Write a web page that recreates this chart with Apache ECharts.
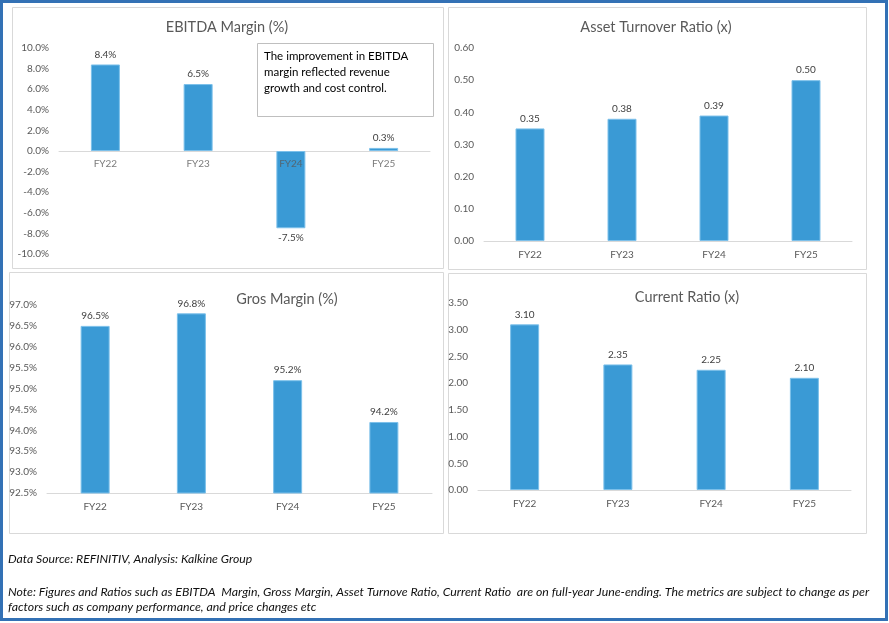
<!DOCTYPE html>
<html>
<head>
<meta charset="utf-8">
<script src="https://cdn.jsdelivr.net/npm/echarts@6/dist/echarts.min.js"></script>
<style>
html,body{margin:0;padding:0;background:#fff;}
#c{width:889px;height:623px;}
</style>
</head>
<body>
<div id="c"></div>
<script>
// ---- data ----
const categories = ['FY22', 'FY23', 'FY24', 'FY25'];
const ebitdaMargin = [8.4, 6.5, -7.5, 0.3];
const assetTurnover = [0.35, 0.38, 0.39, 0.50];
const grossMargin = [96.5, 96.8, 95.2, 94.2];
const currentRatio = [3.10, 2.35, 2.25, 2.10];
const titles = ['EBITDA Margin (%)', 'Asset Turnover Ratio (x)', 'Gros Margin (%)', 'Current Ratio (x)'];
const noteLines = ['The improvement in EBITDA', 'margin reflected revenue', 'growth and cost control.'];
const footerSource = 'Data Source: REFINITIV, Analysis: Kalkine Group';
const footerNote = [
  'Note: Figures and Ratios such as EBITDA  Margin, Gross Margin, Asset Turnove Ratio, Current Ratio  are on full-year June-ending. The metrics are subject to change as per',
  'factors such as company performance, and price changes etc'
];

const FONT = 'Lato, Carlito, Calibri, "Open Sans", sans-serif';
const BAR = '#3a9ad5';
const chart = echarts.init(document.getElementById('c'), null, {renderer: 'canvas'});

const grids = [
  {left: 59, top: 48, width: 371, height: 206},
  {left: 484, top: 48, width: 368, height: 193},
  {left: 47, top: 305, width: 385, height: 188},
  {left: 478, top: 303, width: 373, height: 187}
];
const yDefs = [
  {min: -10, max: 10, interval: 2, fmt: v => v.toFixed(1) + '%'},
  {min: 0, max: 0.6, interval: 0.1, fmt: v => v.toFixed(2)},
  {min: 92.5, max: 97, interval: 0.5, fmt: v => v.toFixed(1) + '%'},
  {min: 0, max: 3.5, interval: 0.5, fmt: v => v.toFixed(2)}
];
const seriesData = [ebitdaMargin, assetTurnover, grossMargin, currentRatio];

const labelStyle = {fontFamily: FONT, fontSize: 10, color: '#595959'};
const xAxis = grids.map((g, i) => ({
  type: 'category', gridIndex: i, data: categories,
  axisLine: {show: true, onZero: true, lineStyle: {color: '#d9d9d9', width: 1}},
  axisTick: {show: false},
  axisLabel: Object.assign({show: i !== 0, margin: 9}, labelStyle)
}));
const yAxis = yDefs.map((d, i) => ({
  type: 'value', gridIndex: i, min: d.min, max: d.max, interval: d.interval,
  axisLine: {show: false}, axisTick: {show: false}, splitLine: {show: false},
  axisLabel: Object.assign({margin: 10, formatter: d.fmt}, labelStyle)
}));
const series = seriesData.map((arr, i) => ({
  type: 'bar', xAxisIndex: i, yAxisIndex: i, data: arr, barWidth: 29,
  itemStyle: {color: BAR, borderColor: '#7cc0ea', borderWidth: 1},
  label: {show: true, position: 'outside', distance: 5, fontFamily: FONT, fontSize: 10, color: '#404040',
    formatter: p => yDefs[i].fmt(p.value)},
  silent: true, animation: false
}));
// category labels for the EBITDA panel sit on the zero line
series.push({
  type: 'scatter', xAxisIndex: 0, yAxisIndex: 0, symbolSize: 0, z: 10,
  data: categories.map(c => [c, 0]),
  label: Object.assign({show: true, position: 'bottom', distance: 8, formatter: p => p.value[0]}, labelStyle),
  silent: true, animation: false
});

const titlePos = [[227, 27], [656, 27], [287, 299], [687, 297]];
const graphic = [];
graphic.push({type: 'rect', shape: {x: 1.5, y: 1.5, width: 885, height: 618}, style: {fill: 'none', stroke: '#3371b5', lineWidth: 3}, silent: true, z: 100});
[[12, 7, 431, 261], [448, 7, 418, 262], [9, 272, 434, 261], [448, 273, 418, 260]].forEach(r => {
  graphic.push({type: 'rect', shape: {x: r[0] + 0.5, y: r[1] + 0.5, width: r[2], height: r[3]}, style: {fill: 'none', stroke: '#d9d9d9', lineWidth: 1}, silent: true});
});
titles.forEach((t, i) => {
  graphic.push({type: 'text', x: titlePos[i][0], y: titlePos[i][1],
    style: {text: t, fill: '#595959', font: '14.5px ' + FONT, textAlign: 'center', align: 'center', textVerticalAlign: 'middle', verticalAlign: 'middle'}, silent: true});
});
graphic.push({type: 'rect', shape: {x: 257.5, y: 43.5, width: 176, height: 73}, style: {fill: '#fff', stroke: '#bfbfbf', lineWidth: 1}, silent: true, z: 50});
noteLines.forEach((t, k) => {
  graphic.push({type: 'text', x: 264, y: 56 + k * 16, z: 51,
    style: {text: t, fill: '#000', font: '11.5px ' + FONT, textAlign: 'left', align: 'left', textVerticalAlign: 'middle', verticalAlign: 'middle'}, silent: true});
});
graphic.push({type: 'text', x: 8, y: 559,
  style: {text: footerSource, fill: '#111', font: 'italic 12.2px ' + FONT, textAlign: 'left', align: 'left', textVerticalAlign: 'middle', verticalAlign: 'middle'}, silent: true});
footerNote.forEach((t, k) => {
  graphic.push({type: 'text', x: 8, y: 592 + k * 15,
    style: {text: t, fill: '#111', font: 'italic 12.3px ' + FONT, textAlign: 'left', align: 'left', textVerticalAlign: 'middle', verticalAlign: 'middle'}, silent: true});
});

chart.setOption({
  animation: false,
  backgroundColor: '#fff',
  grid: grids,
  xAxis, yAxis, series, graphic
});
</script>
</body>
</html>
